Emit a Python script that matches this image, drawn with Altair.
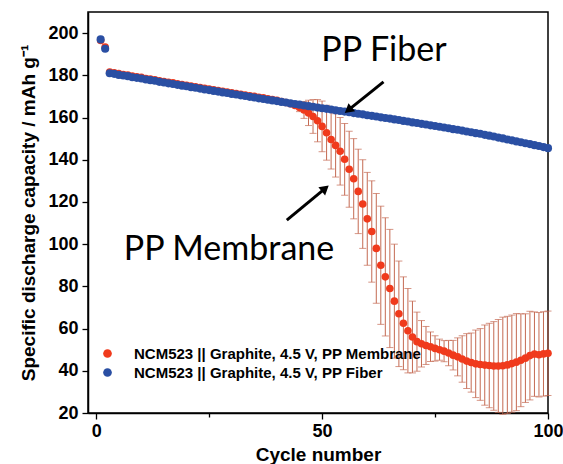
import altair as alt
import pandas as pd

cycles = list(range(1, 101))

fiber = [197.0, 192.6, 181.0, 180.7, 180.2, 179.9, 179.6, 179.1, 178.8, 178.5,
         178.0, 177.7, 177.4, 176.9, 176.6, 176.2, 175.9, 175.5, 175.1, 174.8,
         174.4, 174.1, 173.7, 173.3, 173.0, 172.6, 172.3, 171.9, 171.6, 171.2,
         170.9, 170.5, 170.2, 169.8, 169.5, 169.1, 168.8, 168.4, 168.1, 167.8,
         167.4, 167.1, 166.7, 166.4, 166.1, 165.7, 165.4, 165.1, 164.7, 164.4,
         164.1, 163.8, 163.4, 163.1, 162.8, 162.5, 162.1, 161.8, 161.5, 161.1,
         160.8, 160.5, 160.1, 159.8, 159.5, 159.1, 158.8, 158.4, 158.1, 157.7,
         157.4, 157.0, 156.7, 156.3, 156.0, 155.6, 155.3, 154.9, 154.5, 154.2,
         153.8, 153.4, 153.0, 152.6, 152.3, 151.8, 151.4, 151.0, 150.5, 150.1,
         149.6, 149.2, 148.7, 148.3, 147.8, 147.4, 146.9, 146.5, 146.0, 145.5]

membrane = [196.5, 193.4, 181.6, 181.2, 180.8, 180.4, 180.1, 179.6, 179.3, 179.0,
            178.5, 178.2, 177.9, 177.4, 177.1, 176.7, 176.4, 176.0, 175.6, 175.3,
            174.9, 174.6, 174.2, 173.8, 173.5, 173.1, 172.8, 172.4, 172.1, 171.7,
            171.4, 171.0, 170.7, 170.3, 170.0, 169.6, 169.3, 168.9, 168.5, 168.1,
            167.6, 167.1, 166.5, 165.7, 164.8, 163.6, 162.2, 160.5, 158.5, 155.8,
            152.8, 149.6, 146.8, 144.0, 140.2, 135.5, 131.0, 125.0, 119.0, 112.0,
            106.0, 98.0, 90.0, 84.5, 79.0, 73.0, 67.0, 62.5, 59.0, 56.0,
            53.8, 52.8, 52.0, 51.4, 50.6, 50.0, 49.3, 48.4, 47.4, 46.6,
            45.6, 44.6, 43.9, 43.3, 43.0, 42.7, 42.5, 42.3, 42.3, 42.4,
            42.8, 43.4, 44.1, 45.0, 46.0, 47.2, 47.9, 47.6, 48.0, 48.3]

membrane_err = [0, 0, 0, 0, 0, 0, 0, 0, 0, 0,
                0, 0, 0, 0, 0, 0, 0, 0, 0, 0,
                0, 0, 0, 0, 0, 0, 0, 0, 0, 0,
                0, 0, 0, 0, 0, 0, 0, 0, 0, 0,
                0, 0, 0, 0, 2, 4, 6, 8, 10, 12,
                13, 14, 15, 16, 17, 18, 19, 20, 21, 22,
                24, 26, 28, 28, 28, 27, 25, 22, 20, 17,
                14, 11, 9, 7, 6, 5, 5, 6, 7, 9,
                11, 13, 14, 16, 17, 19, 20, 21, 22, 23,
                23, 23, 23, 22, 21, 21, 20, 20, 20, 20]

series_names = ["NCM523 || Graphite, 4.5 V, PP Membrane",
                "NCM523 || Graphite, 4.5 V, PP Fiber"]
series_colors = ["#f03a1c", "#2a4fa3"]
err_color = "#c46a52"

label_text = ["PP Fiber", "PP Membrane"]
label_x = [63.7, 29.4]
label_y = [191.5, 97.0]

arrow_x1 = [63.6, 42.2]
arrow_y1 = [176.9, 111.4]
arrow_x2 = [55.8, 50.7]
arrow_y2 = [163.5, 126.4]
arrow_angle = [231, 50]

x_ticks = [0, 25, 50, 75, 100]
y_ticks = list(range(20, 201, 10))

# ---- tables
pts = pd.DataFrame({
    "cycle": cycles * 2,
    "value": membrane + fiber,
    "series": [series_names[0]] * 100 + [series_names[1]] * 100,
})
err = pd.DataFrame({"cycle": cycles, "value": membrane, "err": membrane_err})
err = err[err["err"] > 0].copy()
err["lo"] = err["value"] - err["err"]
err["hi"] = err["value"] + err["err"]

labels = pd.DataFrame({"t": label_text, "x": label_x, "y": label_y})
arrows = pd.DataFrame({"x": arrow_x1, "y": arrow_y1, "x2": arrow_x2,
                       "y2": arrow_y2, "a": arrow_angle})

xscale = alt.Scale(domain=[-1.8, 100], nice=False, zero=False)
yscale = alt.Scale(domain=[20, 210], nice=False, zero=False)

font = "Liberation Sans"
xaxis = alt.Axis(
    values=x_ticks, title="Cycle number", grid=False,
    labelExpr="datum.value % 50 === 0 ? datum.label : ''",
    tickSize={"condition": {"test": "datum.value % 50 === 0", "value": 6}, "value": 4},
    labelFont=font, labelFontSize=18, labelFontWeight="bold", labelColor="black",
    titleFont=font, titleFontSize=19, titleFontWeight="bold", titleColor="black",
    labelPadding=3, titlePadding=5, domainColor="black", domainWidth=1.5,
    tickColor="black", tickWidth=1.3, labelFlush=False, labelOverlap=False,
)
yaxis = alt.Axis(
    values=y_ticks, title="Specific discharge capacity / mAh g\u207b\u00b9", grid=False,
    labelExpr="datum.value % 20 === 0 ? datum.label : ''",
    tickSize={"condition": {"test": "datum.value % 20 === 0", "value": 6}, "value": 4},
    labelFont=font, labelFontSize=18, labelFontWeight="bold", labelColor="black",
    titleFont=font, titleFontSize=19, titleFontWeight="bold", titleColor="black",
    labelPadding=4, titlePadding=9, domainColor="black", domainWidth=1.5,
    tickColor="black", tickWidth=1.3, labelFlush=False, labelOverlap=False,
)

bars = alt.Chart(err).mark_rule(color=err_color, strokeWidth=1).encode(
    x=alt.X("cycle:Q", scale=xscale, axis=xaxis),
    y=alt.Y("lo:Q", scale=yscale, axis=yaxis),
    y2="hi:Q",
)
cap_lo = alt.Chart(err).mark_tick(color=err_color, orient="horizontal",
                                  size=7, thickness=1).encode(
    x=alt.X("cycle:Q", scale=xscale), y=alt.Y("lo:Q", scale=yscale))
cap_hi = alt.Chart(err).mark_tick(color=err_color, orient="horizontal",
                                  size=7, thickness=1).encode(
    x=alt.X("cycle:Q", scale=xscale), y=alt.Y("hi:Q", scale=yscale))

color = alt.Color(
    "series:N",
    scale=alt.Scale(domain=series_names, range=series_colors),
    legend=alt.Legend(
        title=None, orient="none", legendX=12, legendY=334,
        symbolType="circle", symbolSize=75, symbolStrokeWidth=0,
        labelFont=font, labelFontSize=15, labelFontWeight="bold",
        labelColor="black", labelOffset=19, rowPadding=3, padding=0,
        labelLimit=400,
    ),
)

red_pts = alt.Chart(pts).transform_filter(
    alt.datum.series == series_names[0]
).mark_circle(size=58, opacity=1).encode(
    x=alt.X("cycle:Q", scale=xscale), y=alt.Y("value:Q", scale=yscale), color=color)
blue_pts = alt.Chart(pts).transform_filter(
    alt.datum.series == series_names[1]
).mark_circle(size=66, opacity=1).encode(
    x=alt.X("cycle:Q", scale=xscale), y=alt.Y("value:Q", scale=yscale), color=color)

arrow_lines = alt.Chart(arrows).mark_rule(color="black", strokeWidth=3).encode(
    x=alt.X("x:Q", scale=xscale), y=alt.Y("y:Q", scale=yscale), x2="x2:Q", y2="y2:Q")
arrow_heads = alt.Chart(arrows).mark_point(
    shape="triangle-up", filled=True, color="black", size=110, opacity=1
).encode(
    x=alt.X("x2:Q", scale=xscale), y=alt.Y("y2:Q", scale=yscale),
    angle=alt.Angle("a:Q", scale=None))

texts = alt.Chart(labels).mark_text(
    font="Lato", fontSize=34, color="black", align="center", baseline="middle"
).encode(x=alt.X("x:Q", scale=xscale), y=alt.Y("y:Q", scale=yscale), text="t:N")

chart = alt.layer(
    bars, cap_lo, cap_hi, red_pts, blue_pts, arrow_lines, arrow_heads, texts
).properties(
    width=460, height=401,
    padding={"left": 88, "top": 12, "right": 15, "bottom": 51},
    autosize=alt.AutoSizeParams(type="none"),
    background="white",
).configure_view(stroke="black", strokeWidth=1.5)

chart.save("out.html", embed_options={"renderer": "svg", "actions": False})
